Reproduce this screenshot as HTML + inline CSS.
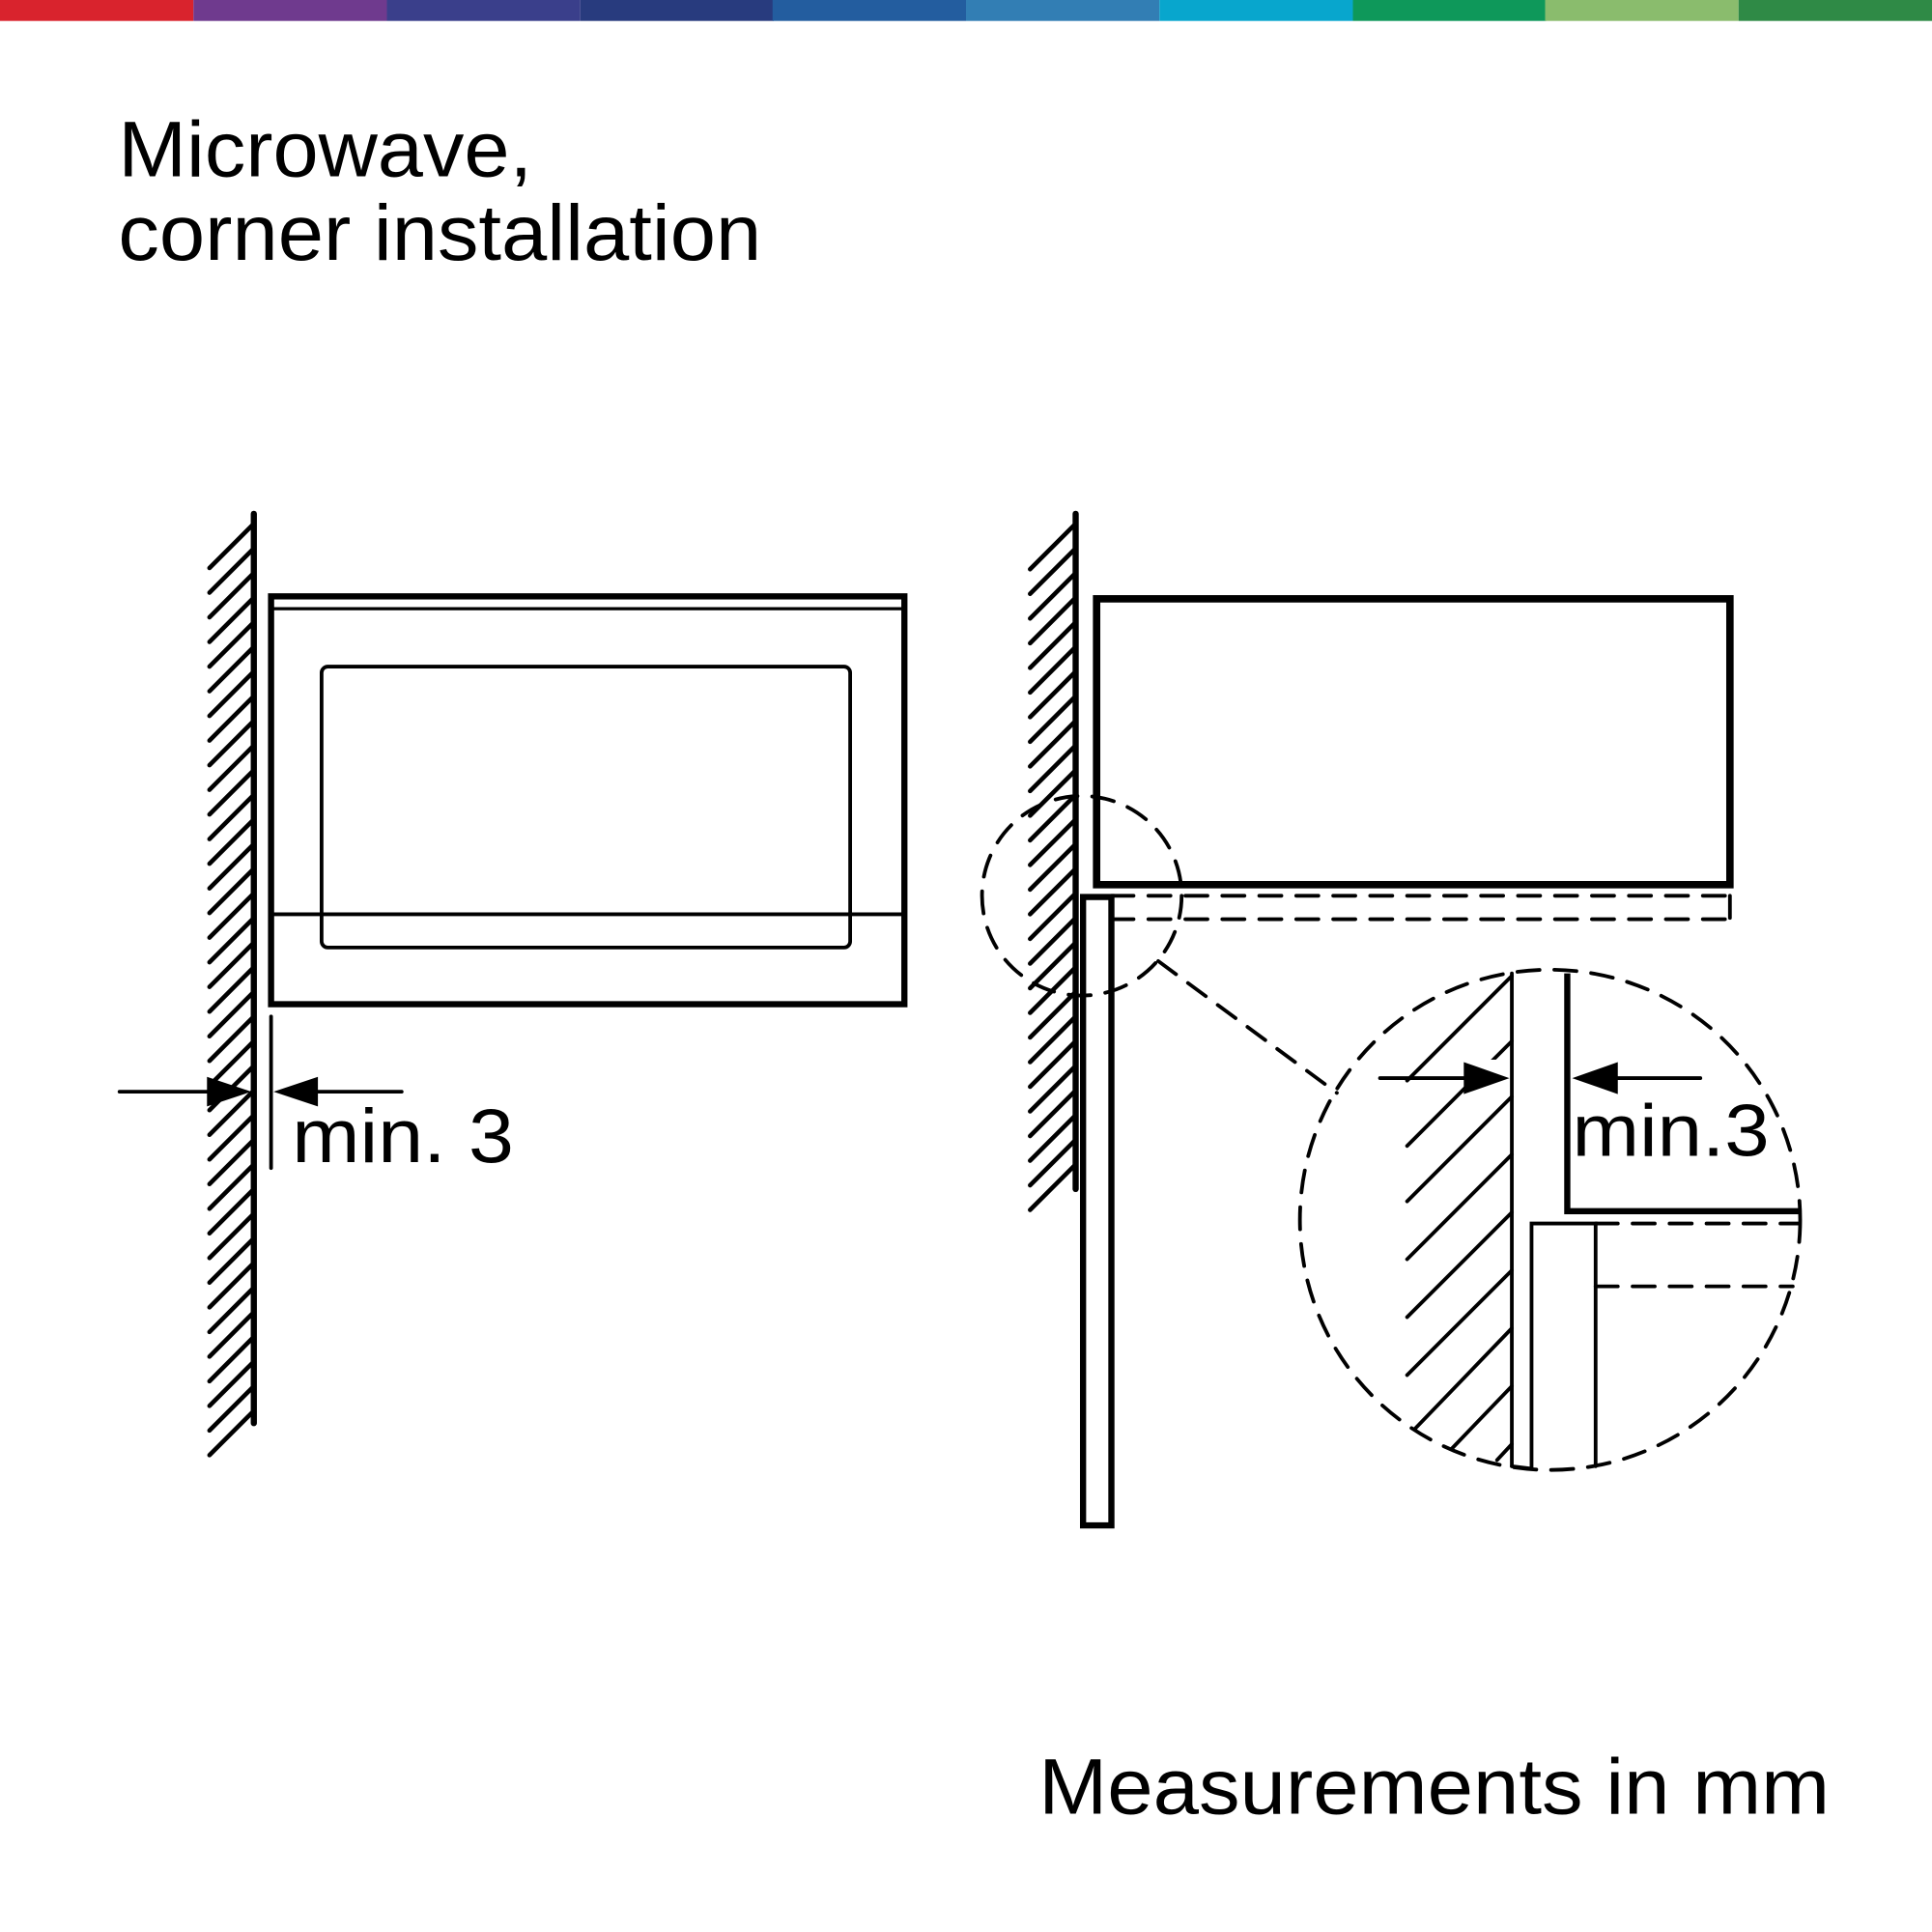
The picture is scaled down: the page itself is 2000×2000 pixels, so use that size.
<!DOCTYPE html>
<html><head><meta charset="utf-8"><style>html,body{margin:0;padding:0;background:#fff}svg{display:block}</style></head>
<body>
<svg width="2000" height="2000" viewBox="0 0 1568 1568" xmlns="http://www.w3.org/2000/svg">
<defs>
<clipPath id="bc"><circle cx="1258" cy="990" r="203"/></clipPath>
</defs>
<g>
<rect x="0" y="0" width="157" height="17" fill="#d9232d"/>
<rect x="157" y="0" width="157" height="17" fill="#6f3a8e"/>
<rect x="314" y="0" width="157" height="17" fill="#3a3f8b"/>
<rect x="471" y="0" width="157" height="17" fill="#283b7e"/>
<rect x="627" y="0" width="157" height="17" fill="#235d9f"/>
<rect x="784" y="0" width="157" height="17" fill="#327eb4"/>
<rect x="941" y="0" width="157" height="17" fill="#08a6cd"/>
<rect x="1098" y="0" width="157" height="17" fill="#0e985a"/>
<rect x="1254" y="0" width="157" height="17" fill="#8abc6d"/>
<rect x="1411" y="0" width="157" height="17" fill="#2f8a46"/>
</g>
<g font-family="Liberation Sans, sans-serif" fill="#000">
<text x="96" y="143" font-size="64" textLength="336" lengthAdjust="spacingAndGlyphs">Microwave,</text>
<text x="96" y="211" font-size="64" textLength="522" lengthAdjust="spacingAndGlyphs">corner installation</text>
<text x="843" y="1472" font-size="64" textLength="642" lengthAdjust="spacingAndGlyphs">Measurements in mm</text>
<text x="237" y="943" font-size="62" textLength="180" lengthAdjust="spacingAndGlyphs">min. 3</text>
<text x="1276" y="938" font-size="60" textLength="160" lengthAdjust="spacingAndGlyphs">min.3</text>
</g>
<g stroke="#000" fill="none" stroke-linecap="round">
<!-- left wall hatch -->
<path stroke-width="3.6" d="M206,425 l-36,36m36,-16l-36,36m36,-16l-36,36m36,-16l-36,36m36,-16l-36,36m36,-16l-36,36m36,-16l-36,36m36,-16l-36,36m36,-16l-36,36m36,-16l-36,36m36,-16l-36,36m36,-16l-36,36m36,-16l-36,36m36,-16l-36,36m36,-16l-36,36m36,-16l-36,36m36,-16l-36,36m36,-16l-36,36m36,-16l-36,36m36,-16l-36,36m36,-16l-36,36m36,-16l-36,36m36,-16l-36,36m36,-16l-36,36m36,-16l-36,36m36,-16l-36,36m36,-16l-36,36m36,-16l-36,36m36,-16l-36,36m36,-16l-36,36m36,-16l-36,36m36,-16l-36,36m36,-16l-36,36m36,-16l-36,36m36,-16l-36,36m36,-16l-36,36m36,-16l-36,36"/>
<line x1="206" y1="417" x2="206" y2="1155" stroke-width="5"/>
<rect x="220" y="484" width="514" height="331" stroke-width="5"/>
<line x1="220" y1="494" x2="734" y2="494" stroke-width="2.5"/>
<rect x="261" y="541" width="429" height="228" rx="5" stroke-width="3"/>
<line x1="220" y1="742" x2="734" y2="742" stroke-width="3"/>
<line x1="220" y1="825" x2="220" y2="948" stroke-width="3"/>
<line x1="97" y1="886" x2="170" y2="886" stroke-width="3"/>
<line x1="258" y1="886" x2="326" y2="886" stroke-width="3"/>
<!-- right wall hatch -->
<path stroke-width="3.6" d="M873,425 l-37,37m37,-17l-37,37m37,-17l-37,37m37,-17l-37,37m37,-17l-37,37m37,-17l-37,37m37,-17l-37,37m37,-17l-37,37m37,-17l-37,37m37,-17l-37,37m37,-17l-37,37m37,-17l-37,37m37,-17l-37,37m37,-17l-37,37m37,-17l-37,37m37,-17l-37,37m37,-17l-37,37m37,-17l-37,37m37,-17l-37,37m37,-17l-37,37m37,-17l-37,37m37,-17l-37,37m37,-17l-37,37m37,-17l-37,37m37,-17l-37,37m37,-17l-37,37m37,-17l-37,37"/>
<line x1="873" y1="417" x2="873" y2="965" stroke-width="5"/>
<rect x="890" y="486" width="514" height="232" stroke-width="6"/>
<rect x="879" y="728" width="23" height="510" stroke-width="5" fill="#fff"/>
<g stroke-width="3" stroke-dasharray="18,12">
<line x1="902" y1="727" x2="1404" y2="727"/>
<line x1="902" y1="746" x2="1404" y2="746"/>
<line x1="1404" y1="727" x2="1404" y2="746"/>
<circle cx="878" cy="727" r="81"/>
<line x1="940" y1="780" x2="1085" y2="887"/>
<circle cx="1258" cy="990" r="203"/>
<line x1="1295" y1="993" x2="1460" y2="993"/>
<line x1="1295" y1="1044" x2="1455" y2="1044"/>
</g>
<!-- detail -->
<g clip-path="url(#bc)" stroke-width="3">
<line x1="1227" y1="792" x2="1142" y2="877"/>
<line x1="1227" y1="845" x2="1142" y2="930"/>
<line x1="1227" y1="890" x2="1142" y2="975"/>
<line x1="1227" y1="937" x2="1142" y2="1022"/>
<line x1="1227" y1="984" x2="1142" y2="1069"/>
<line x1="1227" y1="1031" x2="1142" y2="1116"/>
<line x1="1227" y1="1078" x2="1148" y2="1160"/>
<line x1="1227" y1="1125" x2="1178" y2="1176"/>
<line x1="1227" y1="1172" x2="1215" y2="1185"/>
</g>
<rect x="1192" y="860" width="30" height="20" fill="#fff" stroke="none"/>
<line x1="1227" y1="790" x2="1227" y2="1190" stroke-width="3"/>
<polyline points="1227,1190 1243,1192 1243,993 1295,993 1295,1190" stroke-width="3"/>
<polyline points="1272,790 1272,983 1461,983" stroke-width="5" stroke-linecap="butt"/>
<line x1="1120" y1="875" x2="1190" y2="875" stroke-width="3"/>
<line x1="1312" y1="875" x2="1380" y2="875" stroke-width="3"/>
</g>
<g fill="#000">
<polygon points="204,886 168,874 168,898"/>
<polygon points="222,886 258,874 258,898"/>
<polygon points="1225,875 1188,862 1188,888"/>
<polygon points="1276,875 1313,862 1313,888"/>
</g>
</svg>
</body></html>
